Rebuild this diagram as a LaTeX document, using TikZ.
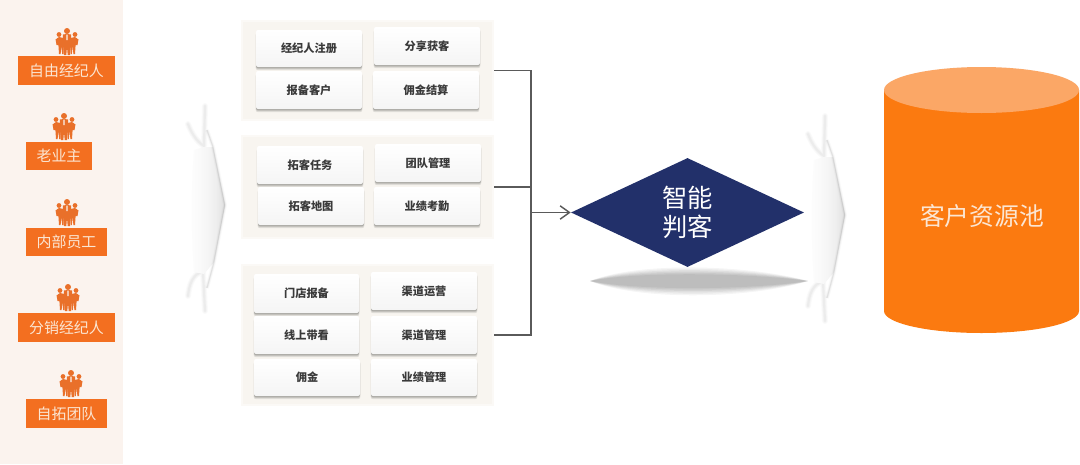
\documentclass[tikz,border=0pt]{standalone}
\usepackage{fontspec}
\setmainfont{Noto Sans CJK SC}
\usetikzlibrary{arrows.meta,shapes.geometric,shadows}
\definecolor{band}{HTML}{FBF3EE}
\definecolor{lab}{HTML}{F36F20}
\definecolor{labtext}{HTML}{FBE6D3}
\definecolor{icon}{HTML}{E9702A}
\definecolor{grp}{HTML}{F8F5F0}
\definecolor{cardtext}{HTML}{3A3A3A}
\definecolor{navy}{HTML}{22306A}
\definecolor{cyl}{HTML}{FB7A10}
\definecolor{cyltop}{HTML}{FBA766}
\definecolor{conn}{HTML}{5A5A5A}
\pgfdeclarehorizontalshading{chevshade}{100bp}{
  color(0bp)=(white); color(25bp)=(black!2); color(38bp)=(black!4); color(50bp)=(black!7); color(62bp)=(black!12); color(70bp)=(black!18); color(75bp)=(black!24)}
\tikzset{
  px/.style={x=0.75pt,y=-0.75pt},
  labelbox/.style={fill=lab,inner sep=0pt,text=labtext,font=\fontsize{11.2pt}{13pt}\selectfont},
  groupbox/.style={fill=grp,inner sep=0pt,draw=grp!60,line width=1.5pt},
  cardbox/.style={inner sep=0pt,rounded corners=1.5pt,text=cardtext,
    font=\fontsize{8.4pt}{10pt}\selectfont\bfseries,
    top color=white,bottom color=black!4,
    general shadow={fill=black,fill opacity=.10,shadow yshift=-2.2pt,shadow xshift=0pt,shadow scale=1.005},
    general shadow={fill=black,fill opacity=.12,shadow yshift=-1.4pt,shadow xshift=0pt},
    general shadow={fill=black,fill opacity=.15,shadow yshift=-.7pt,shadow xshift=0pt}},
  link/.style={draw=conn,line width=.8pt},
  people/.pic={
    \fill[icon] (0,-11) circle (3);
    \fill[icon] (-8,-7.5) circle (2.4);
    \fill[icon] (8,-7.5) circle (2.4);
    \fill[icon] (-11.5,-3) to[out=-80,in=180] (-8,-5) to[out=0,in=170] (-3.5,-4) -- (-3.5,12) -- (-4.8,12) -- (-5.6,4) -- (-6.4,12) -- (-8,12) -- (-8.6,3) -- (-10.5,3) -- cycle;
    \fill[icon] (11.5,-3) to[out=-100,in=0] (8,-5) to[out=180,in=10] (3.5,-4) -- (3.5,12) -- (4.8,12) -- (5.6,4) -- (6.4,12) -- (8,12) -- (8.6,3) -- (10.5,3) -- cycle;
    \fill[icon] (-4.2,-7.5) to[out=-20,in=180] (0,-8) to[out=0,in=200] (4.2,-7.5) -- (4,3) -- (3,13) -- (.7,13) -- (0,5) -- (-.7,13) -- (-3,13) -- (-4,3) -- cycle;
    \fill[band] (-.5,-7.5) -- (.5,-7.5) -- (.6,-2) -- (-.6,-2) -- cycle;
  },
}
% name, x1, y1, x2, y2, style, text
\newcommand\boxnode[7]{%
  \pgfmathsetmacro\bw{(#4-#2)*0.75}\pgfmathsetmacro\bh{(#5-#3)*0.75}%
  \pgfmathsetmacro\bx{(#2+#4)/2}\pgfmathsetmacro\by{(#3+#5)/2}%
  \node[#6,minimum width=\bw pt,minimum height=\bh pt] (#1) at (\bx,\by) {#7};}
% soft chevron, shifted by dx, dy
\newcommand\softchevron[2]{%
  \begin{scope}[shift={(#1,#2)}]
    % fuzzy horns, filled wedges
    \foreach \w/\o in {4.5/.02,3/.025,1.6/.03}{
      \draw[black,opacity=\o,line width=\w pt,line join=round,line cap=round]
        (188,124) .. controls (191,132) and (196,141) .. (204,146) -- (205,106);
      \draw[black,opacity=\o,line width=\w pt,line join=round,line cap=round]
        (188,296) .. controls (189,285) and (193,273) .. (203,272) -- (205,311);
    }
    % body
    \shade[shading=chevshade]
      (194,150) -- (204,147) -- (213,147) -- (225,205) -- (214,262) -- (204,274) -- (194,272) .. controls (191,230) and (191,190) .. (194,150) -- cycle;
    % soft right edge
    \foreach \w/\o in {3/.025,1.6/.04,.7/.06}{
      \draw[black,opacity=\o,line width=\w pt,line join=round]
        (207,130) -- (213,147) -- (225,205) -- (214,262) -- (207,288);
    }
  \end{scope}}
\begin{document}
\begin{tikzpicture}[px]
\useasboundingbox (0,0) rectangle (1080,464);
\fill[white] (0,0) rectangle (1080,464);
\fill[band] (0,0) rectangle (123,464);
% left labels
\boxnode{l1}{18}{56}{115}{85}{labelbox}{自由经纪人}
\boxnode{l2}{26}{142}{92}{170}{labelbox}{老业主}
\boxnode{l3}{26}{228}{107}{256}{labelbox}{内部员工}
\boxnode{l4}{18}{313}{115}{342}{labelbox}{分销经纪人}
\boxnode{l5}{26}{399}{107}{428}{labelbox}{自拓团队}
\pic at (67,42) {people};
\pic at (64,127) {people};
\pic at (67,213) {people};
\pic at (68,298) {people};
\pic at (71,384) {people};
% chevrons
\softchevron{0}{0}
\softchevron{620}{10}
% groups
\boxnode{g1}{242}{21}{493}{120}{groupbox}{}
\boxnode{g2}{242}{136}{493}{238}{groupbox}{}
\boxnode{g3}{242}{265}{493}{405}{groupbox}{}
% cards
\boxnode{c1}{256}{30}{362}{67}{cardbox}{经纪人注册}
\boxnode{c2}{374}{27}{480}{65}{cardbox}{分享获客}
\boxnode{c3}{256}{71}{362}{109}{cardbox}{报备客户}
\boxnode{c4}{373}{71}{479}{109}{cardbox}{佣金结算}
\boxnode{c5}{257}{146}{363}{184}{cardbox}{拓客任务}
\boxnode{c6}{375}{144}{481}{182}{cardbox}{团队管理}
\boxnode{c7}{258}{187}{364}{225}{cardbox}{拓客地图}
\boxnode{c8}{374}{187}{480}{225}{cardbox}{业绩考勤}
\boxnode{c9}{254}{274}{359}{313}{cardbox}{门店报备}
\boxnode{c10}{371}{272}{477}{310}{cardbox}{渠道运营}
\boxnode{c11}{254}{316}{359}{354}{cardbox}{线上带看}
\boxnode{c12}{371}{316}{477}{354}{cardbox}{渠道管理}
\boxnode{c13}{254}{359}{360}{396}{cardbox}{佣金}
\boxnode{c14}{371}{359}{477}{396}{cardbox}{业绩管理}
% diamond shadow
\foreach \h/\o in {20/.04,18/.04,16/.05,14/.05,12/.05,10/.05}{
  \fill[black,opacity=\o] (590,281) .. controls (640,{281-\h}) and (750,{281-\h*.8}) .. (808,281)
    .. controls (750,{281+\h*.9}) and (640,{281+\h}) .. (590,281) -- cycle;
}
% diamond
\node[diamond,fill=navy,inner sep=0pt,aspect=2.14,minimum width=174.75pt,minimum height=81.75pt,text=white,
  font=\fontsize{19pt}{22pt}\selectfont,align=center] (d) at (687.5,212.5) {智能\\判客};
% connectors
\coordinate (j) at (531,212.5);
\draw[link] (g1.east) -| (j);
\draw[link] (g3.east) -| (j);
\draw[link] (g2.east) -| (j);
\draw[link,-{Straight Barb[length=7pt,width=10pt,line width=1.1pt]}] (j) -- (d.west);
% cylinder
\fill[cyl] (884,90) -- (884,311) arc[start angle=180,end angle=0,x radius=97.5,y radius=22] -- (1079,90) -- cycle;
\fill[cyltop] (981.5,90) ellipse [x radius=97.5,y radius=23];
\node[text=labtext,inner sep=0pt,font=\fontsize{18.6pt}{22pt}\selectfont] (p) at (982,216) {客户资源池};
\end{tikzpicture}
\end{document}
